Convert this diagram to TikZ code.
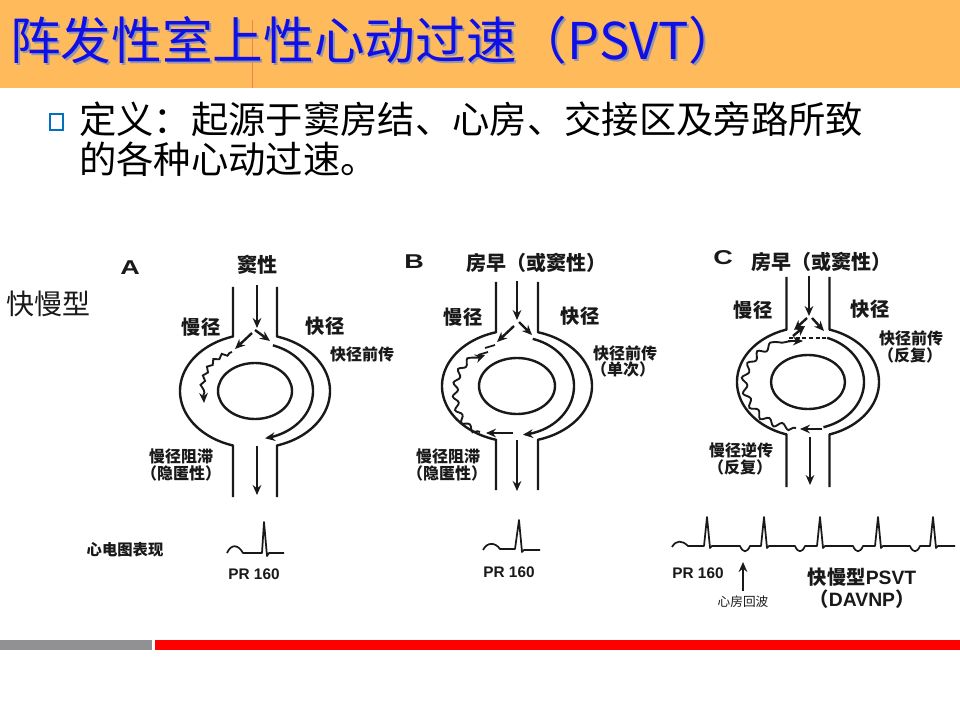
\documentclass[tikz,border=0pt]{standalone}
\usepackage{fontspec}
\usepackage{graphicx}
\newfontfamily\cjk{Noto Sans CJK SC}
\newfontfamily\arb{Liberation Sans}
\usetikzlibrary{arrows.meta,decorations.pathmorphing}
\definecolor{barorange}{RGB}{255,187,91}
\definecolor{titleblue}{RGB}{16,16,230}
\definecolor{titleshadow}{RGB}{150,150,170}
\definecolor{bulletblue}{RGB}{0,112,192}
\definecolor{bargray}{RGB}{145,145,148}
\definecolor{barred}{RGB}{255,0,0}
\definecolor{ink}{RGB}{25,25,25}
\definecolor{faintline}{RGB}{240,130,80}
\newcommand{\fsz}[1]{\fontsize{#1}{#1}\selectfont}
\newcommand{\ringpanel}[9]{%
  \pgfmathsetmacro\rpa{acos(#2/#5)}%
  \pgfmathsetmacro\rpb{180+\rpa}%
  \pgfmathsetmacro\rpc{180-\rpa}%
  \pgfmathsetmacro\rpd{-\rpa}%
  \draw[wall] (#1-#2,#3) -- plot[domain=\rpb:\rpc,samples=70] ({#1+#5*cos(\x)},{#4+#6*sin(\x)}) -- (#1-#2,#9);
  \draw[wall] (#1+#2,#3) -- plot[domain=\rpd:\rpa,samples=70] ({#1+#5*cos(\x)},{#4+#6*sin(\x)}) -- (#1+#2,#9);
  \draw[wall] (#1,#4) ellipse[x radius=#7, y radius=#8];
}
\begin{document}
\begin{tikzpicture}[x=0.75pt,y=-0.75pt,
  wall/.style={line width=1.8pt, draw=ink, line join=round},
  tip/.style={-{Stealth[length=7.5pt,width=6.5pt]}},
  arr/.style={line width=1.8pt, draw=ink, tip},
  wavyA/.style={line width=1.4pt, draw=ink, tip, decorate, decoration={snake, amplitude=1.4pt, segment length=7pt, pre length=2pt, post length=5pt}},
  wavyB/.style={line width=1.4pt, draw=ink, tip, decorate, decoration={snake, amplitude=2pt, segment length=10pt, pre length=2pt, post length=5pt}},
  wavyC/.style={line width=1.4pt, draw=ink, decorate, decoration={snake, amplitude=2.2pt, segment length=11pt, pre length=2pt, post length=3pt}},
  ecg/.style={line width=1.3pt, draw=ink, line join=round},
  letter/.style={inner sep=0pt, text=ink, font=\arb\bfseries\fsz{15}},
  toplbl/.style={inner sep=0pt, text=ink, font=\cjk\bfseries\fsz{15}},
  lbl/.style={inner sep=0pt, text=ink, font=\cjk\bfseries\fsz{14.5}},
  slbl/.style={inner sep=0pt, text=ink, font=\cjk\bfseries\fsz{12}},
  ecglbl/.style={inner sep=0pt, text=ink, font=\arb\bfseries\fsz{11.5}}
]
\useasboundingbox (0,0) rectangle (960,720);
\fill[white] (0,0) rectangle (960,720);
% title bar
\fill[barorange] (0,0) rectangle (960,88);
\draw[color=faintline, line width=0.3pt] (252,20) -- (252,88);
\node[anchor=base west, inner sep=0pt, text=titleshadow, font=\cjk\fsz{38}] (titlesh) at (12,62) {阵发性室上性心动过速（PSVT）};
\node[anchor=base west, inner sep=0pt, text=titleblue, font=\cjk\fsz{38}] (title) at (10,60) {阵发性室上性心动过速（PSVT）};
% definition
\draw[bulletblue, line width=1.8pt] (50,114) rectangle (63,130);
\node[anchor=base west, inner sep=0pt, font=\cjk\fsz{28}] (def1) at (79,134) {定义：起源于窦房结、心房、交接区及旁路所致};
\node[anchor=base west, inner sep=0pt, font=\cjk\fsz{28}] (def2) at (79,174) {的各种心动过速。};
% bottom bars
\fill[bargray] (0,640) rectangle (152,650);
\fill[barred] (155,640) rectangle (960,650);

% ===== Panel A =====
\ringpanel{255}{22}{287}{391}{75}{57}{37}{28}{497}
\draw[arr] (257,285) -- (257,328);
\draw[arr] (255,330) -- (270,341);
\draw[arr] (252,333) -- (235,349);
\draw[arr] plot[domain=288:440,samples=60] ({255+58*cos(\x)},{391+48*sin(\x)});
\draw[wavyA] (232,352) -- (224,355) .. controls (210,361) and (202,378) .. (204,403);
\draw[arr] (257,446) -- (257,495);
\node[letter] (labA) at (130,268) {\scalebox{1.35}[1]{A}};
\node[inner sep=0pt, text=ink, font=\cjk\fsz{21}] (kmx) at (49,304) {快慢型};
\node[toplbl] (srcA) at (257,265) {窦性};
\node[lbl] (slowA) at (201,327) {慢径};
\node[lbl] (fastA) at (325,326) {快径};
\node[slbl] (antA) at (362,354) {快径前传};
\node[slbl] (blkA1) at (181,456) {慢径阻滞};
\node[slbl] (blkA2) at (181,473) {（隐匿性）};

% ===== Panel B =====
\ringpanel{517}{21}{282}{386}{75}{56}{38}{28}{490}
\draw[arr] (517,281) -- (517,320);
\draw[arr] (519,322) -- (532,335);
\draw[arr] (514,326) -- (497,342);
\draw[line width=1.3pt, ink] (485,348) -- (495,345);
\draw[line width=1.3pt, ink] (478,355) -- (488,352);
\draw[arr] plot[domain=286:444,samples=60] ({517+57*cos(\x)},{386+49*sin(\x)});
\draw[arr] (513,433) -- (486,433);
\draw[wavyB] (480,432) .. controls (463,428) and (456,405) .. (459,385) .. controls (461,370) and (470,360) .. (485,355);
\draw[arr] (517,440) -- (517,491);
\node[letter] (labB) at (414,262) {\scalebox{1.35}[1]{B}};
\node[toplbl] (srcB) at (536,263) {房早（或窦性）};
\node[lbl] (slowB) at (463,317) {慢径};
\node[lbl] (fastB) at (580,316) {快径};
\node[slbl] (antB1) at (625,353) {快径前传};
\node[slbl] (antB2) at (623,369) {（单次）};
\node[slbl] (blkB1) at (448,456) {慢径阻滞};
\node[slbl] (blkB2) at (447,473) {（隐匿性）};

% ===== Panel C =====
\ringpanel{808}{21.5}{277}{382}{71}{55}{37}{27}{487}
\draw[arr] (809,276) -- (809,316);
\draw[arr] (807,318) -- (794,330);
\draw[arr] (812,318) -- (824,331);
\draw[arr] (793,336) -- (805,326);
\draw[line width=1.1pt, ink, dash pattern=on 3pt off 2pt] (789,338) -- (827,338);
\draw[ink, line width=1.8pt] plot[domain=290:434,samples=60] ({808+56*cos(\x)},{382+47*sin(\x)});
\draw[arr] (822,429) -- (800,429);
\draw[wavyC] (796,428) .. controls (770,426) and (750,410) .. (748,385) .. controls (747,362) and (770,343) .. (792,341);
\draw[arr] (788,341) -- (803,341);
\draw[arr] (810,437) -- (810,485);
\node[letter] (labC) at (723,258) {\scalebox{1.35}[1]{C}};
\node[toplbl] (srcC) at (821,262) {房早（或窦性）};
\node[lbl] (slowC) at (753,310) {慢径};
\node[lbl] (fastC) at (870,309) {快径};
\node[slbl] (antC1) at (911,338) {快径前传};
\node[slbl] (antC2) at (910,355) {（反复）};
\node[slbl] (retC1) at (741,450) {慢径逆传};
\node[slbl] (retC2) at (740,467) {（反复）};

% ===== ECG =====
\node[inner sep=0pt, text=ink, font=\cjk\bfseries\fsz{11.5}] (ecgt) at (125,550) {心电图表现};
\draw[ecg] (227,553) .. controls (231,544) and (238,544) .. (243,553) -- (262,553) -- (264,522) -- (267,556) -- (269,553) -- (284,553);
\node[ecglbl] (prA) at (254,574) {PR 160};
\draw[ecg] (483,550) .. controls (487,542) and (495,542) .. (500,549) -- (515,549) -- (519,520) -- (522,552) -- (524,550) -- (540,550);
\node[ecglbl] (prB) at (509,572) {PR 160};
\draw[ecg] (672,547) .. controls (676,540) and (682,540) .. (688,546) -- (704,546) -- (707,517) -- (710,548) -- (712,546)
  -- (740,546) .. controls (743,553) and (747,553) .. (750,546) -- (761,546) -- (764,517) -- (767,548) -- (769,546)
  -- (795,546) .. controls (798,553) and (802,553) .. (805,546) -- (817,546) -- (820,517) -- (823,548) -- (825,546)
  -- (853,546) .. controls (856,553) and (860,553) .. (863,546) -- (875,546) -- (878,517) -- (881,548) -- (883,546)
  -- (910,546) .. controls (913,553) and (917,553) .. (920,546) -- (930,546) -- (933,517) -- (936,548) -- (938,546) -- (955,546);
\node[ecglbl] (prC) at (698,573) {PR 160};
\coordinate (echoTail) at (743,591);
\coordinate (echoHead) at (743,562);
\draw[arr] (echoTail) -- (echoHead);
\node[inner sep=0pt, text=ink, font=\cjk\fsz{9.5}] (echo) at (743,602) {心房回波};
\node[inner sep=0pt, text=ink, font=\cjk\bfseries\fsz{14.5}] (psvt) at (862,577) {快慢型{\arb PSVT}};
\node[inner sep=0pt, text=ink, font=\cjk\bfseries\fsz{14.5}] (davnp) at (862,599) {（{\arb DAVNP}）};
\end{tikzpicture}
\end{document}
